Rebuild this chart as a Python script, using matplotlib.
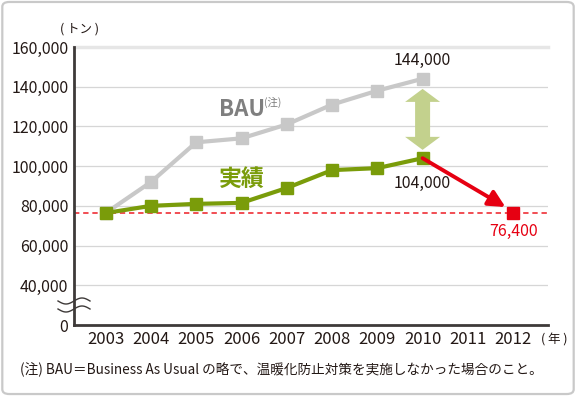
import matplotlib
matplotlib.use("Agg")
import matplotlib.pyplot as plt
import numpy as np
from matplotlib.patches import FancyBboxPatch, Polygon

plt.rcParams['font.family'] = ['Noto Sans CJK JP', 'DejaVu Sans']

years = [2003, 2004, 2005, 2006, 2007, 2008, 2009, 2010]
bau = [76400, 92000, 112000, 114000, 121000, 131000, 138000, 144000]
actual = [76400, 80000, 81000, 81500, 89000, 98000, 99000, 104000]
target_year = 2012
target = 76400
xticks = [2003, 2004, 2005, 2006, 2007, 2008, 2009, 2010, 2011, 2012]
ytick_vals = [0, 40000, 60000, 80000, 100000, 120000, 140000, 160000]
ytick_labels = ["0", "40,000", "60,000", "80,000", "100,000", "120,000", "140,000", "160,000"]

GRAY = "#c8c8c8"
GREEN = "#7a9c0a"
RED = "#e60012"
LGREEN = "#c3d18d"
DARK = "#3e3a39"
TXT = "#231815"

# broken axis: 0 is drawn one step (20,000) below 40,000
def fwd(y):
    y = np.asarray(y, dtype=float)
    return np.where(y >= 40000, y, 20000 + y / 2.0)

def inv(y):
    y = np.asarray(y, dtype=float)
    return np.where(y >= 40000, y, (y - 20000) * 2.0)

W, H = 576, 396
fig = plt.figure(figsize=(5.76, 3.96), dpi=100)
border = FancyBboxPatch((0.004, 0.005), 0.992, 0.99, boxstyle="round,pad=0,rounding_size=0.012",
                        transform=fig.transFigure, fill=False, edgecolor="#c9c9c9", linewidth=1.6)
fig.patches.append(border)

ax = fig.add_axes([74/W, 1-325/H, (548-74)/W, (325-47)/H])
ax.set_yscale('function', functions=(fwd, inv))
ax.set_ylim(0, 160000)
ax.set_xlim(2002.3, 2012.77)

for v in ytick_vals[1:-1]:
    ax.axhline(v, color="#d6d6d6", linewidth=0.9, zorder=0)
ax.axhline(160000, color="#e6e6e6", linewidth=2.5, zorder=0, clip_on=False)

ax.set_yticks(ytick_vals)
ax.set_yticklabels(ytick_labels, fontsize=11.5, color=TXT)
ax.set_xticks(xticks)
ax.set_xticklabels([str(x) for x in xticks], fontsize=12, color=TXT)
ax.tick_params(axis='both', length=0)
ax.tick_params(axis='y', pad=4)
ax.tick_params(axis='x', pad=4)
for s in ['top', 'right']:
    ax.spines[s].set_visible(False)
for s in ['left', 'bottom']:
    ax.spines[s].set_color(DARK)
    ax.spines[s].set_linewidth(2)

# dashed target line
ax.axhline(target, color="#ee1c25", linewidth=1.1, linestyle=(0, (3.5, 2.5)), zorder=1)

ax.plot(years, bau, color=GRAY, linewidth=3, marker='s', markersize=8.5, zorder=3)
ax.plot(years, actual, color=GREEN, linewidth=3, marker='s', markersize=8.5, zorder=4)

# red arrow to target
ax.annotate('', xy=(2011.83, 79400), xytext=(years[-1], actual[-1]),
            arrowprops=dict(arrowstyle='-|>,head_length=1.0,head_width=0.5', color=RED,
                            linewidth=2.8, shrinkA=0, shrinkB=0), zorder=5)
ax.plot([target_year], [target], color=RED, marker='s', markersize=8.5, linestyle='none', zorder=6)

# double arrow between BAU and actual in 2010 (built in pixel space)
fig.canvas.draw()
cx, ytop = ax.transData.transform((years[-1], 138900))
_, ybot = ax.transData.transform((years[-1], 108200))
hw, sw, hl = 17.5, 7.5, 13
verts = [(cx, ytop), (cx + hw, ytop - hl), (cx + sw, ytop - hl), (cx + sw, ybot + hl),
         (cx + hw, ybot + hl), (cx, ybot), (cx - hw, ybot + hl), (cx - sw, ybot + hl),
         (cx - sw, ytop - hl), (cx - hw, ytop - hl)]
dbl = Polygon(verts, closed=True, facecolor=LGREEN, edgecolor='none', transform=None, zorder=2)
ax.add_artist(dbl)

# labels
ax.text(years[-1], 149000, "144,000", ha='center', va='bottom', fontsize=11.5, color=TXT)
ax.text(years[-1], 95500, "104,000", ha='center', va='top', fontsize=11.5, color=TXT)
ax.text(target_year, 71500, "76,400", ha='center', va='top', fontsize=11.5, color=RED)
ax.text(2005.5, 128300, "BAU", ha='left', va='center', fontsize=16, fontweight='bold', color="#7f7f7f")
ax.text(2006.5, 132000, "(注)", ha='left', va='center', fontsize=7.5, color="#7f7f7f")
ax.text(2005.5, 93500, "実績", ha='left', va='center', fontsize=16.5, fontweight='bold', color=GREEN)

fig.text(60/W, 1-29/H, "( トン )", ha='left', va='center', fontsize=9, color=TXT)
fig.text(541/W, 1-340/H, "( 年 )", ha='left', va='center', fontsize=9, color=TXT)
fig.text(20/W, 1-370/H, "(注) BAU＝Business As Usual の略で、温暖化防止対策を実施しなかった場合のこと。",
         ha='left', va='center', fontsize=9.8, color=TXT)

# axis break mark
t = np.linspace(0, 1, 40)
for dy in (-4, 4):
    xs = 58 + 32 * t
    ys = 305 + dy + 3 * np.sin(2 * np.pi * t)
    fig.add_artist(plt.Line2D(xs / W, 1 - ys / H, color=DARK, linewidth=1.0,
                              transform=fig.transFigure))

fig.savefig("out.png", dpi=100)
